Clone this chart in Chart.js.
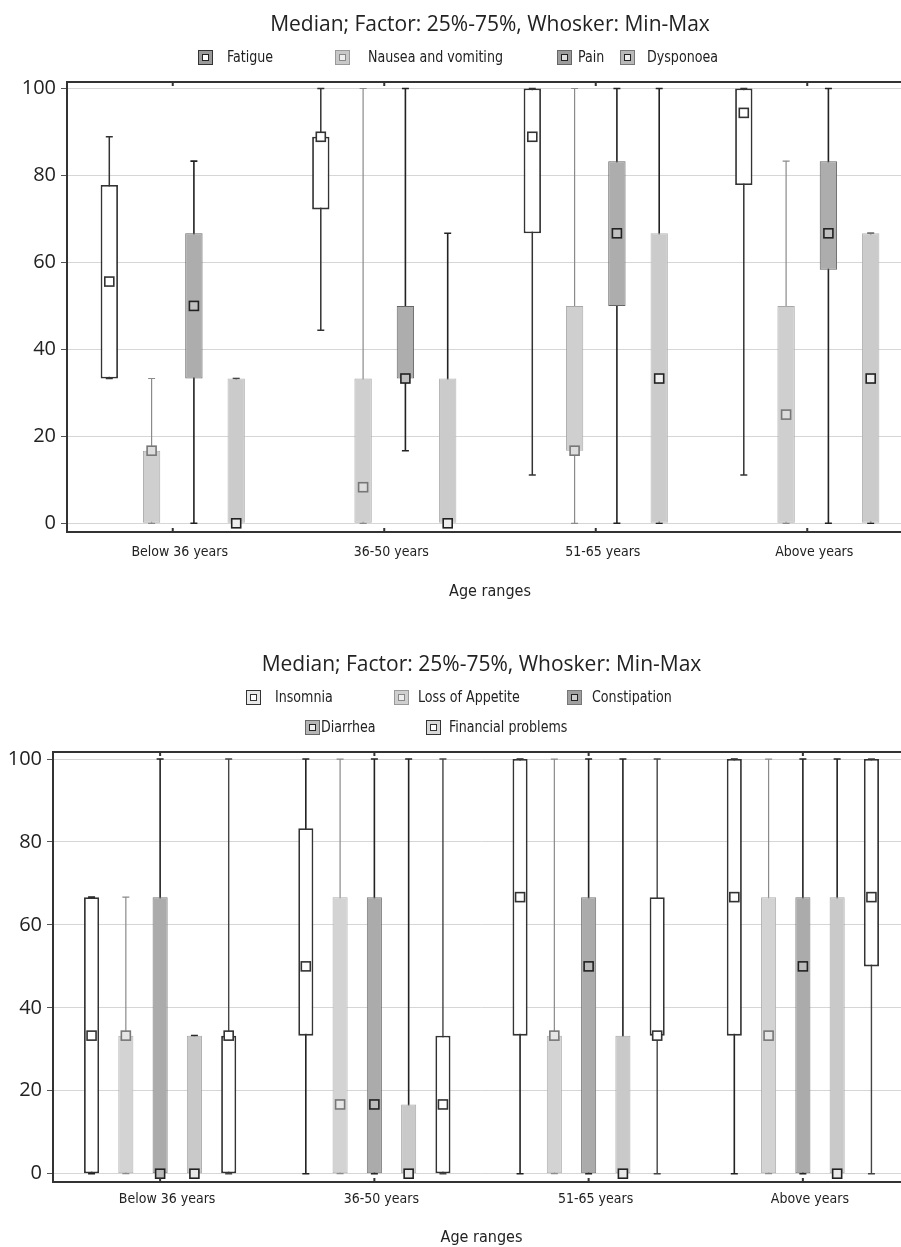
<!DOCTYPE html>
<html>
<head>
<meta charset="utf-8">
<script src="https://cdn.jsdelivr.net/npm/chart.js@4.4.0/dist/chart.umd.min.js"></script>
<style>
  body { margin: 0; background: #fff; overflow: hidden; }
  .wrap { position: relative; width: 920px; }
  canvas { display: block; }
  .leg { position: absolute; height: 20px; line-height: 20px; font-size: 16px; color: #222;
         font-family: 'Liberation Sans Narrow', 'DejaVu Sans Condensed', sans-serif; white-space: nowrap;
         transform: scaleX(0.88); transform-origin: left center; }
  .icon { position: absolute; width: 15px; height: 15px; box-sizing: border-box; border: 1px solid #333; }
  .icon i { position: absolute; left: 3px; top: 3px; width: 7px; height: 7px; box-sizing: border-box; border: 1.5px solid #222; }
</style>
</head>
<body>
<div class="wrap" id="w1"><canvas id="c1" width="920" height="618"></canvas></div>
<div class="wrap" id="w2"><canvas id="c2" width="920" height="629"></canvas></div>
<script>
// categories and y ticks
const categories = ['Below 36 years', '36-50 years', '51-65 years', 'Above years'];
const yTicks = [0, 20, 40, 60, 80, 100];

// each entry: [min, q1, median, q3, max] for one age range
const fatigue  = [[33.3, 33.3, 55.6, 77.8, 88.9], [44.4, 72.2, 88.9, 88.9, 100], [11.1, 66.7, 88.9, 100, 100], [11.1, 77.8, 94.4, 100, 100]];
const nausea   = [[0, 0, 16.7, 16.7, 33.3], [0, 0, 8.3, 33.3, 100], [0, 16.7, 16.7, 50, 100], [0, 0, 25, 50, 83.3]];
const pain     = [[0, 33.3, 50, 66.7, 83.3], [16.7, 33.3, 33.3, 50, 100], [0, 50, 66.7, 83.3, 100], [0, 58.3, 66.7, 83.3, 100]];
const dyspnoea = [[0, 0, 0, 33.3, 33.3], [0, 0, 0, 33.3, 66.7], [0, 0, 33.3, 66.7, 100], [0, 0, 33.3, 66.7, 66.7]];

const insomnia     = [[0, 0, 33.3, 66.7, 66.7], [0, 33.3, 50, 83.3, 100], [0, 33.3, 66.7, 100, 100], [0, 33.3, 66.7, 100, 100]];
const appetite     = [[0, 0, 33.3, 33.3, 66.7], [0, 0, 16.7, 66.7, 100], [0, 0, 33.3, 33.3, 100], [0, 0, 33.3, 66.7, 100]];
const constipation = [[0, 0, 0, 66.7, 100], [0, 0, 16.7, 66.7, 100], [0, 0, 50, 66.7, 100], [0, 0, 50, 66.7, 100]];
const diarrhea     = [[0, 0, 0, 33.3, 33.3], [0, 0, 0, 16.7, 100], [0, 0, 0, 33.3, 100], [0, 0, 0, 66.7, 100]];
const financial    = [[0, 0, 33.3, 33.3, 100], [0, 0, 16.7, 33.3, 100], [0, 33.3, 33.3, 66.7, 100], [0, 50, 66.7, 100, 100]];

const narrow = "'Liberation Sans Narrow', 'DejaVu Sans Condensed', sans-serif";
const titleText = 'Median; Factor: 25%-75%, Whosker: Min-Max';

// series styles
const top5 = [
  { name: 'Fatigue', stats: fatigue, fill: '#ffffff', border: '#333', bw: 1.8, wc: '#333', ww: 1.5, mf: '#fff', mb: '#333', icon: ['#9a9a9a', '#333', '#fff', '#222'] },
  { name: 'Nausea and vomiting', stats: nausea, fill: '#cfcfcf', border: '#a8a8a8', bw: 1, wc: '#8a8a8a', ww: 1.2, mf: '#ddd', mb: '#777', icon: ['#c8c8c8', '#999', '#eee', '#888'] },
  { name: 'Pain', stats: pain, fill: '#adadad', border: '#666', bw: 1, wc: '#222', ww: 1.6, mf: '#c0c0c0', mb: '#222', icon: ['#9c9c9c', '#666', '#ddd', '#222'] },
  { name: 'Dysponoea', stats: dyspnoea, fill: '#cbcbcb', border: '#b5b5b5', bw: 1, wc: '#222', ww: 1.6, mf: '#eee', mb: '#222', icon: ['#b8b8b8', '#777', '#eee', '#222'] }
];
const bottom5 = [
  { name: 'Insomnia', stats: insomnia, fill: '#ffffff', border: '#333', bw: 1.8, wc: '#222', ww: 1.6, mf: '#fff', mb: '#333', icon: ['#e8e8e8', '#333', '#fff', '#333'] },
  { name: 'Loss of Appetite', stats: appetite, fill: '#d3d3d3', border: '#b0b0b0', bw: 1, wc: '#8a8a8a', ww: 1.2, mf: '#e6e6e6', mb: '#777', icon: ['#cfcfcf', '#999', '#eee', '#888'] },
  { name: 'Constipation', stats: constipation, fill: '#ababab', border: '#777', bw: 1, wc: '#222', ww: 1.6, mf: '#bbb', mb: '#222', icon: ['#a0a0a0', '#777', '#ccc', '#222'] },
  { name: 'Diarrhea', stats: diarrhea, fill: '#c9c9c9', border: '#a8a8a8', bw: 1, wc: '#222', ww: 1.6, mf: '#e8e8e8', mb: '#222', icon: ['#b5b5b5', '#666', '#eee', '#222'] },
  { name: 'Financial problems', stats: financial, fill: '#ffffff', border: '#333', bw: 1.8, wc: '#444', ww: 1.4, mf: '#fff', mb: '#333', icon: ['#d8d8d8', '#333', '#fff', '#333'] }
];

// legend layout: [iconLeft, textLeft, centerY]
const legendPos1 = [[198, 227, 57], [335, 368, 57], [557, 578, 57], [620, 647, 57]];
const legendPos2 = [[246, 275, 79], [394, 418, 79], [567, 592, 79], [305, 321, 109], [426, 449, 109]];

// whiskers and median marks, drawn through the chart's own scales
const boxPlot = {
  id: 'boxPlot',
  beforeDatasetsDraw(chart) {
    const ctx = chart.ctx, y = chart.scales.y;
    chart.data.datasets.forEach((ds, i) => {
      chart.getDatasetMeta(i).data.forEach((bar, j) => {
        const s = ds.stats[j];
        const x = bar.x, yMin = y.getPixelForValue(s[0]), yMax = y.getPixelForValue(s[4]);
        ctx.save();
        ctx.strokeStyle = ds.wc;
        ctx.lineWidth = ds.ww;
        ctx.beginPath();
        ctx.moveTo(x, yMin); ctx.lineTo(x, yMax);
        ctx.moveTo(x - 3.5, yMin); ctx.lineTo(x + 3.5, yMin);
        ctx.moveTo(x - 3.5, yMax); ctx.lineTo(x + 3.5, yMax);
        ctx.stroke();
        ctx.restore();
      });
    });
  },
  afterDatasetsDraw(chart) {
    const ctx = chart.ctx, y = chart.scales.y;
    chart.data.datasets.forEach((ds, i) => {
      chart.getDatasetMeta(i).data.forEach((bar, j) => {
        const ym = y.getPixelForValue(ds.stats[j][2]);
        ctx.save();
        ctx.fillStyle = ds.mf;
        ctx.strokeStyle = ds.mb;
        ctx.lineWidth = 1.6;
        ctx.fillRect(bar.x - 4.5, ym - 4.5, 9, 9);
        ctx.strokeRect(bar.x - 4.5, ym - 4.5, 9, 9);
        ctx.restore();
      });
    });
  },
  afterDraw(chart) {
    // plot frame: left, top and bottom lines with small inner ticks
    const { ctx, chartArea: a } = chart;
    const x = chart.scales.x;
    ctx.save();
    ctx.strokeStyle = '#333';
    ctx.lineWidth = 2;
    ctx.beginPath();
    ctx.moveTo(a.right + 10, a.top); ctx.lineTo(a.left, a.top); ctx.lineTo(a.left, a.bottom); ctx.lineTo(a.right + 10, a.bottom);
    categories.forEach((c, i) => {
      const px = x.getPixelForValue(i);
      ctx.moveTo(px, a.top); ctx.lineTo(px, a.top + 4);
      ctx.moveTo(px, a.bottom); ctx.lineTo(px, a.bottom - 4);
    });
    ctx.stroke();
    ctx.restore();
  }
};

function boxChart(id, series, cfg) {
  return new Chart(document.getElementById(id), {
    type: 'bar',
    data: {
      labels: categories,
      datasets: series.map(s => ({
        label: s.name,
        data: s.stats.map(v => [v[1], v[3]]),
        stats: s.stats,
        backgroundColor: s.fill,
        borderColor: s.border,
        borderWidth: s.bw,
        borderSkipped: false,
        wc: s.wc, ww: s.ww, mf: s.mf, mb: s.mb,
        barPercentage: cfg.barPct,
        categoryPercentage: 0.8
      }))
    },
    options: {
      responsive: false,
      animation: false,
      layout: { padding: { left: 0, right: cfg.padRight, top: 0, bottom: cfg.padBottom } },
      plugins: {
        legend: { display: false },
        tooltip: { enabled: false },
        title: {
          display: true,
          text: titleText,
          fullSize: false,
          color: '#222',
          font: { family: 'Open Sans', size: 21, weight: 'normal' },
          padding: cfg.titlePad
        }
      },
      scales: {
        x: {
          grid: { display: false, drawTicks: false },
          border: { display: false },
          ticks: { color: '#222', font: { family: narrow, size: 14 }, padding: cfg.tickPad, labelOffset: 7 },
          title: { display: true, text: 'Age ranges', color: '#222', font: { family: narrow, size: 16 }, padding: cfg.axisTitlePad }
        },
        y: {
          min: -2,
          max: cfg.yMax,
          afterBuildTicks: s => { s.ticks = yTicks.map(v => ({ value: v })); },
          afterFit: s => { s.width = cfg.left; },
          grid: { color: '#d6d6d6', lineWidth: 1, tickLength: 6, tickColor: '#555' },
          border: { display: false },
          ticks: { color: '#222', font: { family: 'Open Sans', size: 20 }, padding: 5 }
        }
      }
    },
    plugins: [boxPlot]
  });
}

function legend(wrapId, series, pos) {
  const w = document.getElementById(wrapId);
  series.forEach((s, i) => {
    const [ix, tx, cy] = pos[i];
    const ic = document.createElement('div');
    ic.className = 'icon';
    ic.style.left = ix + 'px';
    ic.style.top = (cy - 7.5) + 'px';
    ic.style.background = s.icon[0];
    ic.style.borderColor = s.icon[1];
    const inner = document.createElement('i');
    inner.style.background = s.icon[2];
    inner.style.borderColor = s.icon[3];
    ic.appendChild(inner);
    const t = document.createElement('span');
    t.className = 'leg';
    t.style.left = tx + 'px';
    t.style.top = (cy - 10) + 'px';
    t.textContent = s.name;
    w.appendChild(ic);
    w.appendChild(t);
  });
}

boxChart('c1', top5, {
  barPct: 0.41, padRight: 7, padBottom: 12.4, left: 67, yMax: 101.5,
  titlePad: { top: 12.4, bottom: 44.4 }, tickPad: 12, axisTitlePad: { top: 9.6, bottom: 4 }
});
boxChart('c2', bottom5, {
  barPct: 0.44, padRight: 10, padBottom: 0, left: 53, yMax: 101.7,
  titlePad: { top: 34.4, bottom: 74.4 }, tickPad: 8.6, axisTitlePad: { top: 11.8, bottom: 0 }
});
legend('w1', top5, legendPos1);
legend('w2', bottom5, legendPos2);
</script>
</body>
</html>
